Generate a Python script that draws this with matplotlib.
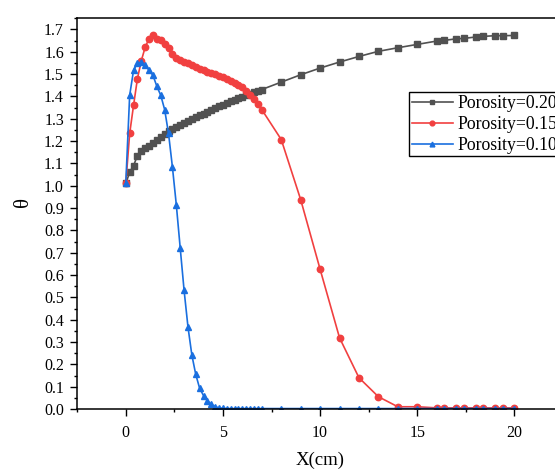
import numpy as np
import matplotlib
matplotlib.use("Agg")
import matplotlib.pyplot as plt
from matplotlib.ticker import MultipleLocator

plt.rcParams['font.family'] = ['Liberation Serif', 'DejaVu Serif']

## DATA
x_dense = [0.0, 0.2, 0.4, 0.6, 0.8, 1.0, 1.2, 1.4, 1.6, 1.8, 2.0, 2.2, 2.4, 2.6, 2.8, 3.0,
           3.2, 3.4, 3.6, 3.8, 4.0, 4.2, 4.4, 4.6, 4.8, 5.0, 5.2, 5.4, 5.6, 5.8, 6.0,
           6.2, 6.4, 6.6, 6.8, 7.0]
x_coarse = [8, 9, 10, 11, 12, 13, 14, 15, 16, 16.4, 17, 17.4, 18, 18.4, 19, 19.4, 20]
x_cm = x_dense + x_coarse

theta_020 = [1.01, 1.06, 1.09, 1.135, 1.155, 1.17, 1.18, 1.19, 1.205, 1.22, 1.232, 1.243,
             1.252, 1.262, 1.271, 1.28, 1.289, 1.297, 1.306, 1.315, 1.323, 1.331, 1.339,
             1.347, 1.355, 1.363, 1.37, 1.378, 1.385, 1.392, 1.399, 1.406, 1.412, 1.419,
             1.425, 1.431,
             1.464, 1.497, 1.527, 1.554, 1.579, 1.602, 1.618, 1.633, 1.648, 1.651, 1.658,
             1.66, 1.666, 1.669, 1.672, 1.672, 1.673]

theta_015 = [1.01, 1.234, 1.36, 1.48, 1.56, 1.621, 1.659, 1.673, 1.655, 1.654, 1.635, 1.615,
             1.588, 1.574, 1.565, 1.556, 1.548, 1.539, 1.531, 1.524, 1.517, 1.511, 1.505,
             1.499, 1.492, 1.485, 1.478, 1.47, 1.462, 1.452, 1.44, 1.426, 1.408, 1.388,
             1.366, 1.341,
             1.207, 0.938, 0.626, 0.319, 0.14, 0.055, 0.01, 0.01, 0.005, 0.005, 0.005,
             0.005, 0.005, 0.005, 0.005, 0.005, 0.005]

theta_010 = [1.01, 1.405, 1.517, 1.549, 1.552, 1.539, 1.517, 1.494, 1.445, 1.405, 1.341, 1.234,
             1.084, 0.915, 0.722, 0.532, 0.368, 0.242, 0.155, 0.093, 0.06, 0.036, 0.021,
             0.01, 0.005, 0.003, 0.002, 0.002, 0.002, 0.002, 0.002, 0.002, 0.002, 0.002,
             0.002, 0.002,
             0.002, 0.002, 0.002, 0.002, 0.002, 0.002, 0.002, 0.002, 0.002, 0.002, 0.002,
             0.002, 0.002, 0.002, 0.002, 0.002, 0.002]

labels = ["Porosity=0.20", "Porosity=0.15", "Porosity=0.10"]
colors = ["#515151", "#F14040", "#1A6FDF"]
markers = ["s", "o", "^"]

## PLOT
fig = plt.figure(figsize=(5.55, 4.70), dpi=100)
ax = fig.add_axes([0.1391, 0.1298, 0.8753, 0.8313])

for y, lab, c, m in zip([theta_020, theta_015, theta_010], labels, colors, markers):
    ax.plot(x_cm, y, color=c, marker=m, markersize=4.6, markeredgecolor=c,
            linewidth=1.2, label=lab)

ax.set_xlim(-2.5, 22.5)
ax.set_ylim(0, 1.75)
ax.xaxis.set_major_locator(MultipleLocator(5))
ax.xaxis.set_minor_locator(MultipleLocator(2.5))
ax.yaxis.set_major_locator(MultipleLocator(0.1))
ax.yaxis.set_minor_locator(MultipleLocator(0.05))
ax.yaxis.set_major_formatter(matplotlib.ticker.FormatStrFormatter('%.1f'))

ax.tick_params(which='both', direction='out', top=False, right=False, labelsize=11.5, width=1.0)
ax.tick_params(which='major', length=5)
ax.tick_params(which='minor', length=2.5)
ax.tick_params(axis='x', pad=6.5)
ax.tick_params(axis='y', pad=4.5)
for s in ax.spines.values():
    s.set_linewidth(1.1)

ax.set_xlabel("X(cm)", fontsize=13.5)
ax.set_ylabel("θ", fontsize=15)
ax.xaxis.set_label_coords(0.5, -0.11)
ax.yaxis.set_label_coords(-0.091, 0.53)

# legend box hangs off the right edge like in the original export
leg = ax.legend(loc='upper left', bbox_to_anchor=(0.7369, 0.8036), bbox_transform=fig.transFigure,
                fontsize=12.8, frameon=True, fancybox=False, edgecolor='black', framealpha=1,
                borderaxespad=0, borderpad=0.15, handlelength=2.3, handletextpad=0.28,
                labelspacing=0.22, markerscale=0.75)
leg.get_frame().set_linewidth(1.0)

fig.savefig("out.png", dpi=100)
